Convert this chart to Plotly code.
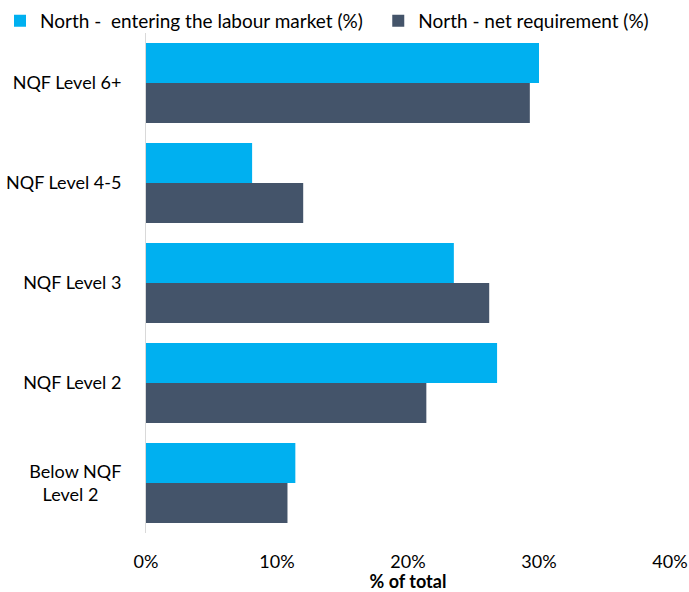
import plotly.graph_objects as go

categories = ["NQF Level 6+", "NQF Level 4-5", "NQF Level 3", "NQF Level 2", "Below NQF Level 2"]
tick_labels = ["NQF Level 6+", "NQF Level 4-5", "NQF Level 3", "NQF Level 2",
               "Below NQF<br>Level 2\u00a0\u00a0\u00a0\u00a0\u00a0"]
entering = [30.0, 8.1, 23.5, 26.8, 11.4]
net_req = [29.3, 12.0, 26.2, 21.4, 10.8]
x_ticks = [0, 10, 20, 30, 40]
x_tick_text = ["0%", "10%", "20%", "30%", "40%"]

FONT = "Lato"

fig = go.Figure()
fig.add_trace(go.Bar(
    y=categories, x=entering, orientation="h",
    name="North -  entering the labour market (%)",
    marker=dict(color="#00B0F0", line=dict(width=0)),
    legend="legend", showlegend=True,
))
fig.add_trace(go.Bar(
    y=categories, x=net_req, orientation="h",
    name="North - net requirement (%)",
    marker=dict(color="#44546A", line=dict(width=0)),
    legend="legend2", showlegend=True,
))

leg_common = dict(
    orientation="h", xref="container", yref="container",
    y=0.997, xanchor="left", yanchor="top",
    font=dict(size=19), itemwidth=30, bgcolor="rgba(0,0,0,0)",
)

fig.update_layout(
    width=689, height=592, showlegend=True,
    margin=dict(l=146, r=19, t=33, b=59, autoexpand=False),
    paper_bgcolor="white", plot_bgcolor="white",
    barmode="group", bargap=0.2, bargroupgap=0,
    font=dict(family=FONT, size=18, color="#000000"),
    legend=dict(x=0.0, **leg_common),
    legend2=dict(x=0.549, **leg_common),
    xaxis=dict(
        range=[0, 40], tickvals=x_ticks, ticktext=x_tick_text,
        showgrid=False, zeroline=False, showline=False,
        ticks="", ticklabelstandoff=16,
        title=dict(text="<b>% of total</b>", font=dict(size=18), standoff=6),
    ),
    yaxis=dict(
        autorange="reversed", tickvals=categories, ticktext=tick_labels,
        showgrid=False, zeroline=False, showline=True,
        linecolor="#D9D9D9", linewidth=1, ticks="", ticklabelstandoff=20,
    ),
)

fig.write_html("out.html")
